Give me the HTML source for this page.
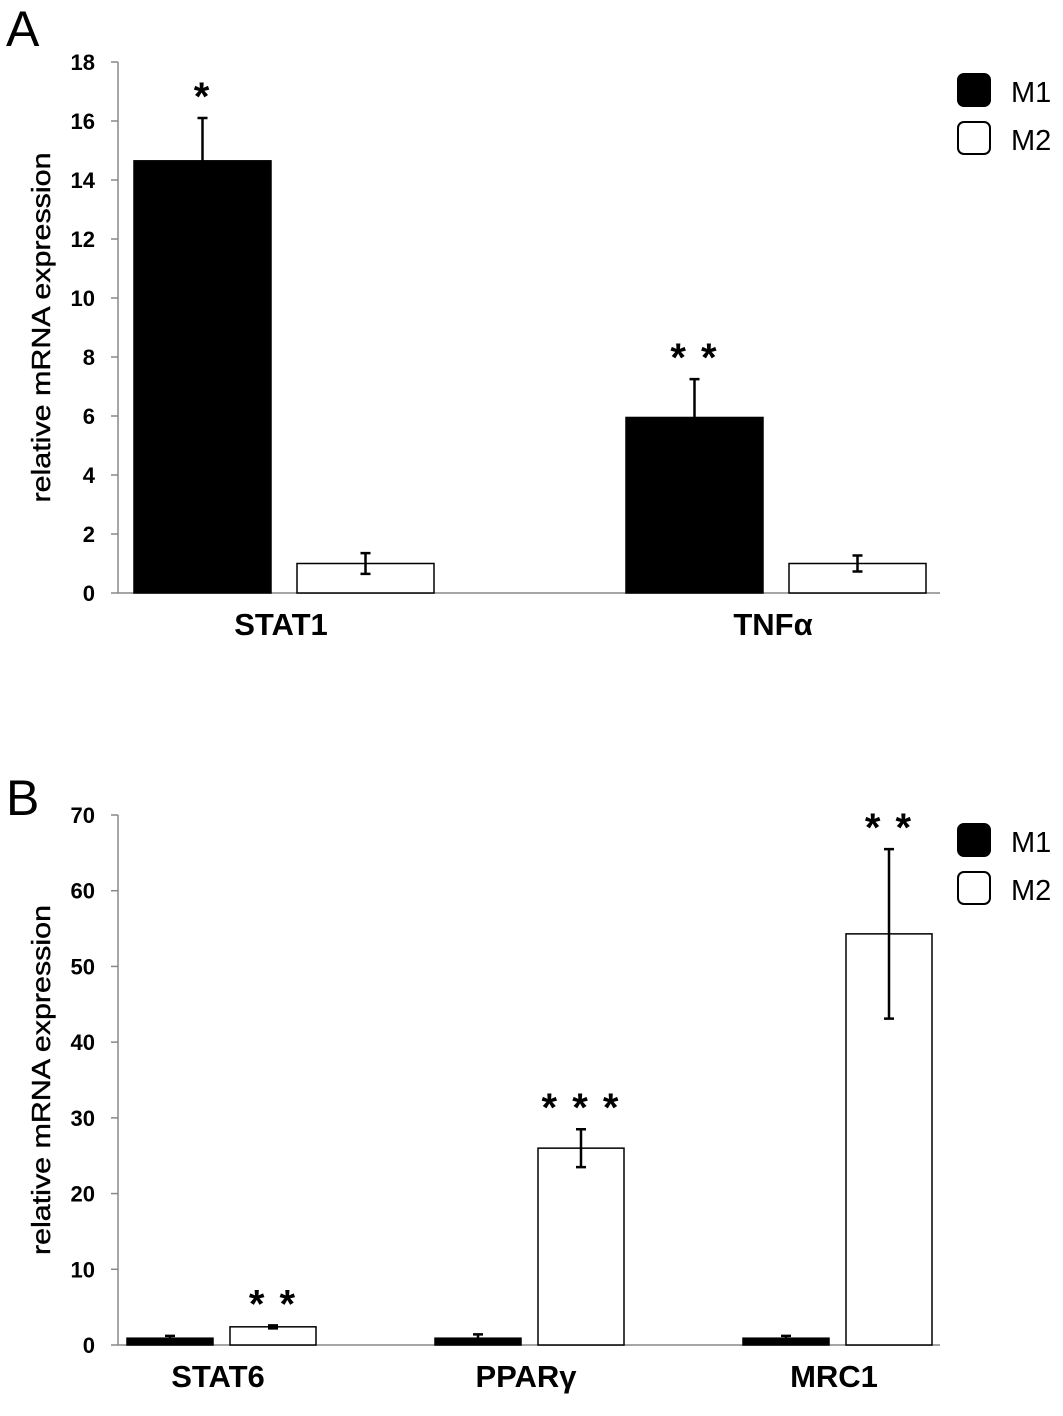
<!DOCTYPE html>
<html><head><meta charset="utf-8"><style>
html,body{margin:0;padding:0;background:#fff;}
svg text{font-family:"Liberation Sans",sans-serif;}
</style></head><body>
<svg id="chart" width="1063" height="1411" viewBox="0 0 1063 1411" xmlns="http://www.w3.org/2000/svg"></svg>
<script>
// Panel A data
const catsA = ["STAT1", "TNF\u03b1"];
const m1A = [14.65, 5.95];
const m1ErrA = [1.45, 1.3];
const m2A = [1.0, 1.0];
const m2ErrA = [0.35, 0.27];
const starsA = ["*", "* *"];
const starSeriesA = ["m1", "m1"];
const ticksA = [0, 2, 4, 6, 8, 10, 12, 14, 16, 18];
// Panel B data
const catsB = ["STAT6", "PPAR\u03b3", "MRC1"];
const m1B = [0.9, 0.9, 0.9];
const m1ErrB = [0.3, 0.5, 0.3];
const m2B = [2.4, 26.0, 54.3];
const m2ErrB = [0.2, 2.5, 11.2];
const starsB = ["* *", "* * *", "* *"];
const starSeriesB = ["m2", "m2", "m2"];
const ticksB = [0, 10, 20, 30, 40, 50, 60, 70];

const svg = document.getElementById('chart');
const NS = 'http://www.w3.org/2000/svg';
function mk(tag, attrs, parent) {
  const e = document.createElementNS(NS, tag);
  for (const k in attrs) e.setAttribute(k, attrs[k]);
  (parent || svg).appendChild(e);
  return e;
}

function panel(opt) {
  const g = mk('g', {});
  
  
  const x0 = 118, x1 = 940, yBase = opt.yBase, yTop = opt.yTop, max = opt.ticks[opt.ticks.length - 1];
  const y = v => yBase - (v / max) * (yBase - yTop);
  const L = mk('text', {x: 6, y: opt.letterY, 'font-size': 50, fill: '#000'}, g);
  L.textContent = opt.letter;
  
  
  const ax = mk('line', {x1: x0, y1: yTop, x2: x0, y2: yBase, stroke: '#888', 'stroke-width': 1.5}, g);
  
  
  const xa = mk('line', {x1: x0, y1: yBase, x2: x1, y2: yBase, stroke: '#888', 'stroke-width': 1.5}, g);
  
  
  opt.ticks.forEach(t => {
    mk('line', {x1: x0 - 7, y1: y(t), x2: x0, y2: y(t), stroke: '#888', 'stroke-width': 1.5}, g);
    const tx = mk('text', {x: 95, y: y(t) + 8, 'font-size': 22, 'font-weight': 'bold', 'text-anchor': 'end'}, g);
    tx.textContent = t;
    
    
  });
  const yt = mk('text', {x: 0, y: 0, 'font-size': 26, 'text-anchor': 'middle', textLength: 350, lengthAdjust: 'spacingAndGlyphs', stroke: '#000', 'stroke-width': 0.4, transform: `translate(50 ${(yTop + yBase) / 2}) rotate(-90)`}, g);
  yt.textContent = 'relative mRNA expression';
  
  
  opt.cats.forEach((c, i) => {
    const gx = x0 + opt.spacing * i;
    const series = [
      {v: opt.m1[i], e: opt.m1e[i], fill: '#000', x: gx + opt.off1, key: 'm1'},
      {v: opt.m2[i], e: opt.m2e[i], fill: '#fff', x: gx + opt.off2, key: 'm2'}
    ];
    series.forEach(s => {
      const b = mk('rect', {x: s.x, y: y(s.v), width: opt.bw, height: yBase - y(s.v), fill: s.fill, stroke: '#000', 'stroke-width': 1.5}, g);
      
      
      const cx = s.x + opt.bw / 2;
      const top = y(s.v + s.e);
      const bot = s.key === 'm1' && opt.oneSidedM1 ? y(s.v) : y(Math.max(0, s.v - s.e));
      const eb = mk('path', {d: `M${cx} ${top}V${bot}M${cx - 5} ${top}H${cx + 5}` + (bot !== y(s.v) ? `M${cx - 5} ${bot}H${cx + 5}` : ''), stroke: '#000', 'stroke-width': 2.5, fill: 'none'}, g);
      
      
      if (opt.starSeries[i] === s.key) {
        const st = mk('text', {x: cx, y: top - 8, 'font-size': 40, 'font-weight': 'bold', 'text-anchor': 'middle', 'letter-spacing': 2}, g);
        st.textContent = opt.stars[i];
        
        
      }
    });
    const cl = mk('text', {x: gx + opt.labelOff, y: yBase + 42, 'font-size': 31, 'font-weight': 'bold', 'text-anchor': 'middle'}, g);
    cl.textContent = c;
    
    
  });
  [['M1', '#000'], ['M2', '#fff']].forEach((l, k) => {
    const ly = opt.legendY + k * 48;
    const r = mk('rect', {x: 958, y: ly, width: 32, height: 32, rx: 6, fill: l[1], stroke: '#000', 'stroke-width': 2}, g);
    
    
    const t = mk('text', {x: 1011, y: ly + 28, 'font-size': 29}, g);
    t.textContent = l[0];
    
    
  });
}

panel({name: 'panel-a', letter: 'A', letterY: 46, yBase: 593, yTop: 62, ticks: ticksA,
  cats: catsA, m1: m1A, m1e: m1ErrA, m2: m2A, m2e: m2ErrA, stars: starsA, starSeries: starSeriesA,
  spacing: 492, off1: 16, off2: 179, bw: 137, labelOff: 163, legendY: 74, oneSidedM1: true});
panel({name: 'panel-b', letter: 'B', letterY: 815, yBase: 1345, yTop: 815, ticks: ticksB,
  cats: catsB, m1: m1B, m1e: m1ErrB, m2: m2B, m2e: m2ErrB, stars: starsB, starSeries: starSeriesB,
  spacing: 308, off1: 9, off2: 112, bw: 86, labelOff: 100, legendY: 824, oneSidedM1: false});
</script>
</body></html>
